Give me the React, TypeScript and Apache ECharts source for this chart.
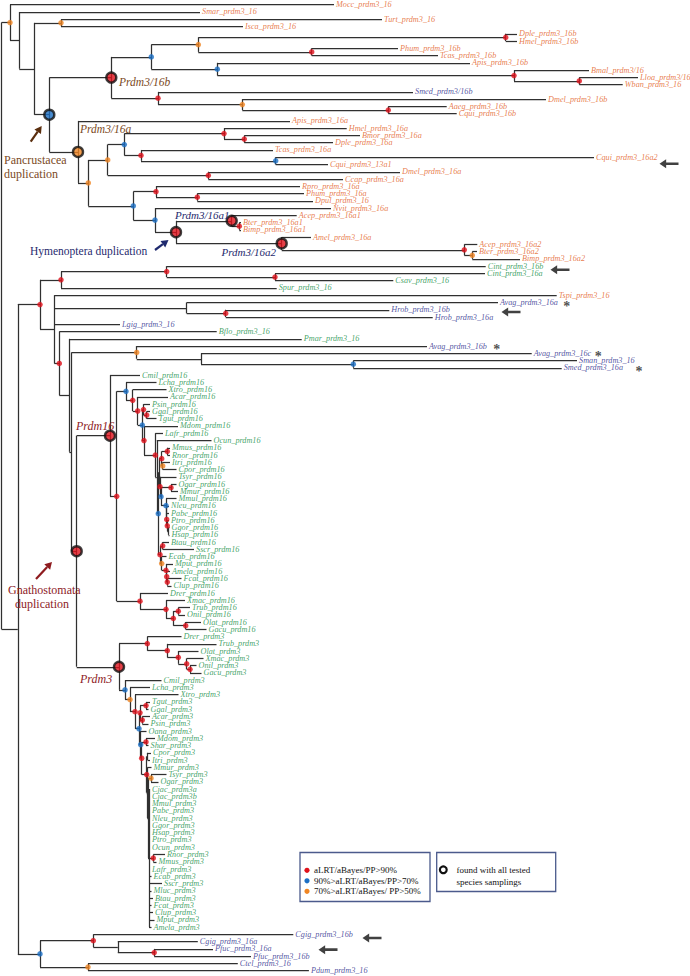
import React, { useEffect, useRef } from "react";
import * as echarts from "echarts";

// Internal nodes: [id, parent, branch-end position, support]
// support: "" none, r: aLRT/aBayes/PP>90%, b: 90-70%, o: 70-50%; upper case = found with all samplings
const NODES: [string, string | null, number, string][] = [
  ["R0", null, 1.5, ""],
  ["A", "R0", 10, "o"],
  ["B", "A", 19.3, ""],
  ["C", "B", 34.3, ""],
  ["D", "C", 61, "o"],
  ["E", "C", 49.3, "B"],
  ["F", "E", 111.3, "R"],
  ["H", "F", 151.3, "b"],
  ["J", "H", 198.3, "o"],
  ["L", "J", 505.7, "r"],
  ["M", "J", 311.7, "r"],
  ["K", "H", 217.3, "b"],
  ["N", "K", 514, "r"],
  ["O", "N", 579.3, "r"],
  ["I", "F", 158, "r"],
  ["Q", "I", 242.3, "o"],
  ["P", "Q", 388.3, "r"],
  ["G", "E", 78, "O"],
  ["S", "G", 88.3, "o"],
  ["T", "S", 107.7, "o"],
  ["U", "T", 124.3, "b"],
  ["W", "U", 224, "r"],
  ["Y", "W", 244.3, "r"],
  ["X", "U", 141, "r"],
  ["Z", "X", 275.7, "b"],
  ["V", "T", 208.3, "r"],
  ["AA", "S", 133.3, "b"],
  ["AB", "AA", 156, "r"],
  ["AD", "AB", 197.3, "r"],
  ["AC", "AA", 155, "b"],
  ["AE", "AC", 176, "R"],
  ["AF", "AE", 231.7, "R"],
  ["AH", "AF", 239.3, "r"],
  ["AG", "AE", 281.7, "R"],
  ["AI", "AG", 464.3, "r"],
  ["AJ", "AI", 472.3, "o"],
  ["NN", "R0", 17.8, ""],
  ["N40", "NN", 40, "r"],
  ["N61", "N40", 61, "r"],
  ["CI1", "N61", 166.7, "r"],
  ["CI2", "CI1", 275, "r"],
  ["N54", "N40", 54.3, ""],
  ["AV", "N54", 186.7, ""],
  ["HR", "AV", 225.7, "r"],
  ["RB", "N54", 59.3, "r"],
  ["P69", "RB", 69.3, ""],
  ["P69b", "P69", 71.5, ""],
  ["O136", "P69b", 136.7, "o"],
  ["N201", "O136", 201, ""],
  ["SM", "N201", 353.3, "b"],
  ["GN", "P69b", 76.7, "R"],
  ["P16", "GN", 110, "R"],
  ["T16", "P16", 116.7, "r"],
  ["TT", "T16", 126, "b"],
  ["TT2", "TT", 132.7, "r"],
  ["AM", "TT2", 137.7, "r"],
  ["B425", "AM", 142.3, "b"],
  ["PGT", "B425", 143.5, "r"],
  ["GT", "PGT", 146.7, "r"],
  ["MM", "B425", 144, "r"],
  ["EU", "MM", 155.3, "r"],
  ["ZC", "EU", 156.8, ""],
  ["BO", "ZC", 158.3, "b"],
  ["EA", "BO", 159.2, ""],
  ["ROD", "EA", 161.7, "r"],
  ["MR", "ROD", 167.3, "r"],
  ["IC", "ROD", 162.7, "o"],
  ["PR2", "EA", 160, "r"],
  ["B496", "PR2", 161, "b"],
  ["STR", "B496", 171, "r"],
  ["CAT", "B496", 166, "b"],
  ["HOM", "CAT", 166.3, ""],
  ["PPGH", "HOM", 166.7, "r"],
  ["PGH", "PPGH", 167.3, "r"],
  ["GH", "PGH", 168.5, ""],
  ["LA", "BO", 160, "r"],
  ["BS", "LA", 162.7, "r"],
  ["EC", "LA", 161.7, "o"],
  ["CARN", "EC", 166, "r"],
  ["AFC", "CARN", 166.7, "r"],
  ["FC", "AFC", 167.3, "r"],
  ["FF", "T16", 140, "r"],
  ["F166", "FF", 166, "r"],
  ["F173", "F166", 173.3, "r"],
  ["F178", "F173", 178.3, "r"],
  ["F185", "F173", 185.7, "r"],
  ["P3", "GN", 119, "R"],
  ["N147", "P3", 147.3, "r"],
  ["N167", "N147", 167.3, "r"],
  ["N178", "N167", 178.3, "r"],
  ["N186", "N178", 186.7, "r"],
  ["N190", "N186", 190, "r"],
  ["B125", "P3", 125, "b"],
  ["O130", "B125", 130, "o"],
  ["R135", "O130", 135, "r"],
  ["AMN", "R135", 139, "b"],
  ["S3", "AMN", 140, "r"],
  ["TG", "S3", 146, "r"],
  ["AP", "S3", 142.3, "r"],
  ["M3", "AMN", 140.7, "b"],
  ["TH", "M3", 141.7, "r"],
  ["MARS", "TH", 146, "r"],
  ["EU3", "TH", 146.7, "r"],
  ["CI", "EU3", 147.5, ""],
  ["E3", "EU3", 147.3, ""],
  ["F3", "E3", 148, ""],
  ["O151", "F3", 151, "o"],
  ["BIG", "F3", 149, ""],
  ["R153", "BIG", 153.3, "r"],
  ["BC", "NN", 40, "b"],
  ["R93", "BC", 93.3, "r"],
  ["N118", "R93", 117.8, ""],
  ["R154", "N118", 154.2, "r"],
  ["O88", "BC", 88, "o"],
];

// Leaves in tree order: [name, parent, branch-end position, group]
// group: o = arthropods/others (orange), g = deuterostomes (green), n = others (navy)
const LEAVES: [string, string, number, string][] = [
  ["Mocc_prdm3_16", "A", 334, "o"],
  ["Smar_prdm3_16", "B", 200, "o"],
  ["Turt_prdm3_16", "D", 382, "o"],
  ["Isca_prdm3_16", "D", 243, "o"],
  ["Dple_prdm3_16b", "L", 517, "o"],
  ["Hmel_prdm3_16b", "L", 517, "o"],
  ["Phum_prdm3_16b", "M", 398, "o"],
  ["Tcas_prdm3_16b", "M", 438, "o"],
  ["Apis_prdm3_16b", "K", 470, "o"],
  ["Bmal_prdm3/16", "N", 589, "o"],
  ["Lloa_prdm3/16", "O", 638, "o"],
  ["Wban_prdm3_16", "O", 622.7, "o"],
  ["Smed_prdm3/16b", "I", 413, "n"],
  ["Dmel_prdm3_16b", "Q", 546, "o"],
  ["Aaeg_prdm3_16b", "P", 446.7, "o"],
  ["Cqui_prdm3_16b", "P", 456.7, "o"],
  ["Apis_prdm3_16a", "G", 290, "o"],
  ["Hmel_prdm3_16a", "W", 346.7, "o"],
  ["Bmor_prdm3_16a", "Y", 360, "o"],
  ["Dple_prdm3_16a", "Y", 333, "o"],
  ["Tcas_prdm3_16a", "X", 273, "o"],
  ["Cqui_prdm3_16a2", "Z", 594, "o"],
  ["Cqui_prdm3_13a1", "Z", 328, "o"],
  ["Dmel_prdm3_16a", "V", 400, "o"],
  ["Ccap_prdm3_16a", "V", 343, "o"],
  ["Rpro_prdm3_16a", "AB", 300, "o"],
  ["Phum_prdm3_16a", "AD", 304, "o"],
  ["Dpul_prdm3_16", "AD", 313, "o"],
  ["Nvit_prdm3_16a", "AC", 331, "o"],
  ["Acep_prdm3_16a1", "AF", 296.7, "o"],
  ["Bter_prdm3_16a1", "AH", 241, "o"],
  ["Bimp_prdm3_16a1", "AH", 241, "o"],
  ["Amel_prdm3_16a", "AG", 311, "o"],
  ["Acep_prdm3_16a2", "AI", 477.3, "o"],
  ["Bter_prdm3_16a2", "AJ", 477, "o"],
  ["Bimp_prdm3_16a2", "AJ", 520, "o"],
  ["Cint_prdm3_16b", "CI1", 485.7, "g"],
  ["Cint_prdm3_16a", "CI2", 485, "g"],
  ["Csav_prdm3_16", "CI2", 393.3, "g"],
  ["Spur_prdm3_16", "N61", 276.7, "g"],
  ["Tspi_prdm3_16", "N54", 556.7, "o"],
  ["Avag_prdm3_16a", "AV", 498, "n"],
  ["Hrob_prdm3_16b", "HR", 389.3, "n"],
  ["Hrob_prdm3_16a", "HR", 432.7, "n"],
  ["Lgig_prdm3_16", "N54", 120, "n"],
  ["Bflo_prdm3_16", "RB", 216.7, "g"],
  ["Pmar_prdm3_16", "P69", 301.7, "g"],
  ["Avag_prdm3_16b", "O136", 427, "n"],
  ["Avag_prdm3_16c", "N201", 531.7, "n"],
  ["Sman_prdm3_16", "SM", 577, "n"],
  ["Smed_prdm3_16a", "SM", 561.7, "n"],
  ["Cmil_prdm16", "P16", 140, "g"],
  ["Lcha_prdm16", "TT", 156.5, "g"],
  ["Xtro_prdm16", "TT2", 166.5, "g"],
  ["Acar_prdm16", "AM", 168, "g"],
  ["Psin_prdm16", "PGT", 150, "g"],
  ["Ggal_prdm16", "GT", 150, "g"],
  ["Tgut_prdm16", "GT", 156.5, "g"],
  ["Mdom_prdm16", "MM", 178, "g"],
  ["Lafr_prdm16", "EU", 163, "g"],
  ["Ocun_prdm16", "ZC", 211.5, "g"],
  ["Mmus_prdm16", "MR", 170, "g"],
  ["Rnor_prdm16", "MR", 170, "g"],
  ["Itri_prdm16", "IC", 170, "g"],
  ["Cpor_prdm16", "IC", 176.5, "g"],
  ["Tsyr_prdm16", "PR2", 176.5, "g"],
  ["Ogar_prdm16", "STR", 176.5, "g"],
  ["Mmur_prdm16", "STR", 178, "g"],
  ["Mmul_prdm16", "CAT", 176.5, "g"],
  ["Nleu_prdm16", "HOM", 169, "g"],
  ["Pabe_prdm16", "PPGH", 169, "g"],
  ["Ptro_prdm16", "PGH", 169, "g"],
  ["Ggor_prdm16", "GH", 169.5, "g"],
  ["Hsap_prdm16", "GH", 169.5, "g"],
  ["Btau_prdm16", "BS", 169, "g"],
  ["Sscr_prdm16", "BS", 194, "g"],
  ["Ecab_prdm16", "EC", 166.5, "g"],
  ["Mput_prdm16", "CARN", 173, "g"],
  ["Amela_prdm16", "AFC", 170, "g"],
  ["Fcat_prdm16", "FC", 181.5, "g"],
  ["Clup_prdm16", "FC", 171.5, "g"],
  ["Drer_prdm16", "FF", 168, "g"],
  ["Xmac_prdm16", "F166", 185, "g"],
  ["Trub_prdm16", "F178", 190, "g"],
  ["Onil_prdm16", "F178", 185, "g"],
  ["Olat_prdm16", "F185", 201, "g"],
  ["Gacu_prdm16", "F185", 206.5, "g"],
  ["Drer_prdm3", "N147", 181.5, "g"],
  ["Trub_prdm3", "N167", 216.5, "g"],
  ["Olat_prdm3", "N178", 198.5, "g"],
  ["Xmac_prdm3", "N186", 203.5, "g"],
  ["Onil_prdm3", "N190", 196.5, "g"],
  ["Gacu_prdm3", "N190", 201.5, "g"],
  ["Cmil_prdm3", "B125", 161.5, "g"],
  ["Lcha_prdm3", "O130", 150, "g"],
  ["Xtro_prdm3", "R135", 178.5, "g"],
  ["Tgut_prdm3", "TG", 150, "g"],
  ["Ggal_prdm3", "TG", 148.5, "g"],
  ["Acar_prdm3", "AP", 150, "g"],
  ["Psin_prdm3", "AP", 148.5, "g"],
  ["Oana_prdm3", "M3", 146.5, "g"],
  ["Mdom_prdm3", "MARS", 155, "g"],
  ["Shar_prdm3", "MARS", 148.5, "g"],
  ["Cpor_prdm3", "CI", 151, "g"],
  ["Itri_prdm3", "CI", 150, "g"],
  ["Mmur_prdm3", "E3", 151.5, "g"],
  ["Tsyr_prdm3", "O151", 166.5, "g"],
  ["Ogar_prdm3", "O151", 158.5, "g"],
  ["Cjac_prdm3a", "BIG", 150, "g"],
  ["Cjac_prdm3b", "BIG", 150, "g"],
  ["Mmul_prdm3", "BIG", 150, "g"],
  ["Pabe_prdm3", "BIG", 150, "g"],
  ["Nleu_prdm3", "BIG", 150, "g"],
  ["Ggor_prdm3", "BIG", 150, "g"],
  ["Hsap_prdm3", "BIG", 150, "g"],
  ["Ptro_prdm3", "BIG", 150, "g"],
  ["Ocun_prdm3", "BIG", 150, "g"],
  ["Rnor_prdm3", "R153", 165, "g"],
  ["Mmus_prdm3", "R153", 156.5, "g"],
  ["Lafr_prdm3", "BIG", 150, "g"],
  ["Ecab_prdm3", "BIG", 151.5, "g"],
  ["Sscr_prdm3", "BIG", 162, "g"],
  ["Mluc_prdm3", "BIG", 151.5, "g"],
  ["Btau_prdm3", "BIG", 153, "g"],
  ["Fcat_prdm3", "BIG", 151.5, "g"],
  ["Clup_prdm3", "BIG", 153, "g"],
  ["Mput_prdm3", "BIG", 154.5, "g"],
  ["Amela_prdm3", "BIG", 151.5, "g"],
  ["Cgig_prdm3_16b", "R93", 293.3, "n"],
  ["Cgig_prdm3_16a", "N118", 197.8, "n"],
  ["Pfuc_prdm3_16a", "R154", 213, "n"],
  ["Pfuc_prdm3_16b", "R154", 251, "n"],
  ["Ctel_prdm3_16", "O88", 237.8, "n"],
  ["Pdum_prdm3_16", "O88", 308.9, "n"],
];

// Annotation marks [branch position, leaf row]
const ARROW_MARKS: [number, number][] = [
  [669, 21.9], [560, 36.5], [511, 42.3], [372, 128.5], [328, 130.1],
];
const STAR_MARKS: [number, number][] = [
  [566.7, 41.2], [496.7, 47.1], [598.3, 48.0], [639, 50.15],
];
const LEGEND_ITEMS: [string, string][] = [
  ["r", "aLRT/aBayes/PP>90%"],
  ["b", "90%>aLRT/aBayes/PP>70%"],
  ["o", "70%>aLRT/aBayes/ PP>50%"],
];

const LEAF_COLORS: Record<string, string> = { o: "#E25A20", g: "#0E8C42", n: "#27298A" };
const DOT_COLORS: Record<string, string> = { r: "#E0121B", b: "#1C6FC4", o: "#F08522" };
const SERIF = '"Liberation Serif", "Times New Roman", serif';

function buildTree() {
  const kids: Record<string, (string | number)[]> = {};
  const xOf: Record<string, number> = {};
  NODES.forEach(([id, p, x]) => {
    xOf[id] = x;
    if (p) (kids[p] = kids[p] || []).push(id);
  });
  LEAVES.forEach(([, p], i) => (kids[p] = kids[p] || []).push(i));
  const memo: Record<string, number> = {};
  const span: Record<string, [number, number]> = {};
  const yOf = (c: string | number): number => (typeof c === "number" ? c : nodeY(c));
  function nodeY(id: string): number {
    if (memo[id] !== undefined) return memo[id];
    const ys = kids[id].map(yOf);
    const lo = Math.min(...ys);
    const hi = Math.max(...ys);
    span[id] = [lo, hi];
    memo[id] = (lo + hi) / 2;
    return memo[id];
  }
  const segs: number[][][] = [];
  NODES.forEach(([id, p, x]) => {
    const y = nodeY(id);
    const [lo, hi] = span[id];
    segs.push([[x, lo], [x, hi]]);
    if (p) segs.push([[xOf[p], y], [x, y]]);
  });
  LEAVES.forEach(([, p, x], i) => segs.push([[xOf[p], i], [x, i]]));
  const dots: any[] = [];
  const rings: any[] = [];
  NODES.forEach(([id, , x, s]) => {
    if (!s) return;
    const c = DOT_COLORS[s.toLowerCase()];
    const item = { value: [x, nodeY(id)], itemStyle: { color: c } };
    if (s === s.toUpperCase()) rings.push(item);
    else dots.push(item);
  });
  return { segs, dots, rings };
}

function dupArrow(x1: number, y1: number, x2: number, y2: number, color: string) {
  const ang = Math.atan2(y2 - y1, x2 - x1);
  const hl = 7;
  const hw = 4;
  const bx = x2 - hl * Math.cos(ang);
  const by = y2 - hl * Math.sin(ang);
  const px = -Math.sin(ang) * hw;
  const py = Math.cos(ang) * hw;
  return [
    { type: "line", shape: { x1, y1, x2: bx, y2: by }, style: { stroke: color, lineWidth: 2.2 }, z: 10 },
    { type: "polygon", shape: { points: [[x2, y2], [bx + px, by + py], [bx - px, by - py]] }, style: { fill: color }, z: 10 },
  ];
}

function txt(text: string, x: number, y: number, color: string, size: number, italic: boolean) {
  return {
    type: "text",
    x,
    y,
    z: 10,
    style: {
      text,
      fill: color,
      fontFamily: SERIF,
      fontSize: size,
      fontStyle: italic ? "italic" : "normal",
      verticalAlign: "middle",
    },
  };
}

function buildOption() {
  const { segs, dots, rings } = buildTree();
  const brown = "#7B4A1E";
  const navy = "#1F2A6E";
  const dred = "#8E1B1F";
  const graphic: any[] = [
    txt("Prdm3/16b", 119, 82, brown, 11.5, true),
    txt("Prdm3/16a", 80, 128.5, brown, 11.5, true),
    txt("Pancrustacea", 4, 159.5, brown, 12, false),
    txt("duplication", 4, 173.5, brown, 12, false),
    ...dupArrow(30.7, 141.7, 41.7, 126, "#5A2E0E"),
    txt("Prdm3/16a1", 175, 214.5, navy, 11, true),
    txt("Prdm3/16a2", 221.5, 252, navy, 11, true),
    txt("Hymenoptera duplication", 30, 251, navy, 11.5, false),
    ...dupArrow(155, 250, 168.5, 240, navy),
    txt("Prdm16", 76, 426, dred, 12, true),
    txt("Prdm3", 80, 678.5, dred, 12, true),
    txt("Gnathostomata", 8, 590, dred, 12, false),
    txt("duplication", 15, 604, dred, 12, false),
    ...dupArrow(36, 579, 52, 562, dred),
    {
      type: "rect",
      shape: { x: 300, y: 852.5, width: 130, height: 49 },
      style: { fill: "#fff", stroke: "#4B5A8C", lineWidth: 1.3 },
      z: 10,
    },
    {
      type: "rect",
      shape: { x: 436.7, y: 852.5, width: 119, height: 39 },
      style: { fill: "#fff", stroke: "#4B5A8C", lineWidth: 1.3 },
      z: 10,
    },
    {
      type: "circle",
      shape: { cx: 443.3, cy: 869.8, r: 3.4 },
      style: { fill: "#fff", stroke: "#111", lineWidth: 2.2 },
      z: 11,
    },
    txt("found with all tested", 456.5, 870, "#111", 9, false),
    txt("species samplings", 456.5, 881.5, "#111", 9, false),
  ];
  LEGEND_ITEMS.forEach(([k, t], i) => {
    const y = 870.3 + i * 10.5;
    graphic.push({
      type: "circle",
      shape: { cx: 307, cy: y, r: 2.6 },
      style: { fill: DOT_COLORS[k] },
      z: 11,
    });
    graphic.push(txt(t, 314, y, "#111", 9, false));
  });

  return {
    animation: false,
    backgroundColor: "#ffffff",
    grid: { left: 0, right: 0, top: 0, bottom: 0 },
    xAxis: { type: "value", min: 0, max: 690, show: false },
    yAxis: { type: "value", min: -0.647, max: 133.73, inverse: true, show: false },
    series: [
      {
        type: "lines",
        coordinateSystem: "cartesian2d",
        silent: true,
        z: 1,
        lineStyle: { color: "#303030", width: 1.25, opacity: 1 },
        data: segs.map((c) => ({ coords: c })),
      },
      {
        type: "scatter",
        silent: true,
        z: 2,
        symbolSize: 0.1,
        itemStyle: { color: "rgba(0,0,0,0)" },
        label: {
          show: true,
          position: "right",
          distance: 2,
          formatter: "{b}",
          fontFamily: SERIF,
          fontStyle: "italic",
          fontSize: 8.2,
        },
        data: LEAVES.map(([name, , x, g], i) => ({
          name,
          value: [x, i],
          label: { color: LEAF_COLORS[g] },
        })),
      },
      {
        type: "scatter",
        silent: true,
        z: 3,
        symbolSize: 5.5,
        data: dots,
      },
      {
        type: "scatter",
        silent: true,
        z: 4,
        symbolSize: 10,
        itemStyle: { borderColor: "#111", borderWidth: 2.4 },
        data: rings,
      },
      {
        type: "scatter",
        silent: true,
        z: 4,
        symbol: "path://M0,5L7,0L7,3.6L20,3.6L20,6.4L7,6.4L7,10Z",
        symbolSize: [19, 9],
        itemStyle: { color: "#111" },
        data: ARROW_MARKS.map((v) => ({ value: v })),
      },
      {
        type: "scatter",
        silent: true,
        z: 4,
        symbolSize: 0.1,
        itemStyle: { color: "rgba(0,0,0,0)" },
        label: {
          show: true,
          position: "inside",
          formatter: "*",
          fontFamily: SERIF,
          fontWeight: "bold",
          fontSize: 14,
          color: "#222",
          offset: [0, 3],
        },
        data: STAR_MARKS.map((v) => ({ value: v })),
      },
    ],
    graphic,
  };
}

export default function App() {
  const ref = useRef<HTMLDivElement>(null);
  useEffect(() => {
    if (!ref.current) return;
    const chart = echarts.init(ref.current, null, { renderer: "svg" });
    chart.setOption(buildOption() as any);
    return () => chart.dispose();
  }, []);
  return (
    <div
      ref={ref}
      style={{ position: "absolute", left: 0, top: 0, width: 690, height: 976, background: "#fff" }}
    />
  );
}
